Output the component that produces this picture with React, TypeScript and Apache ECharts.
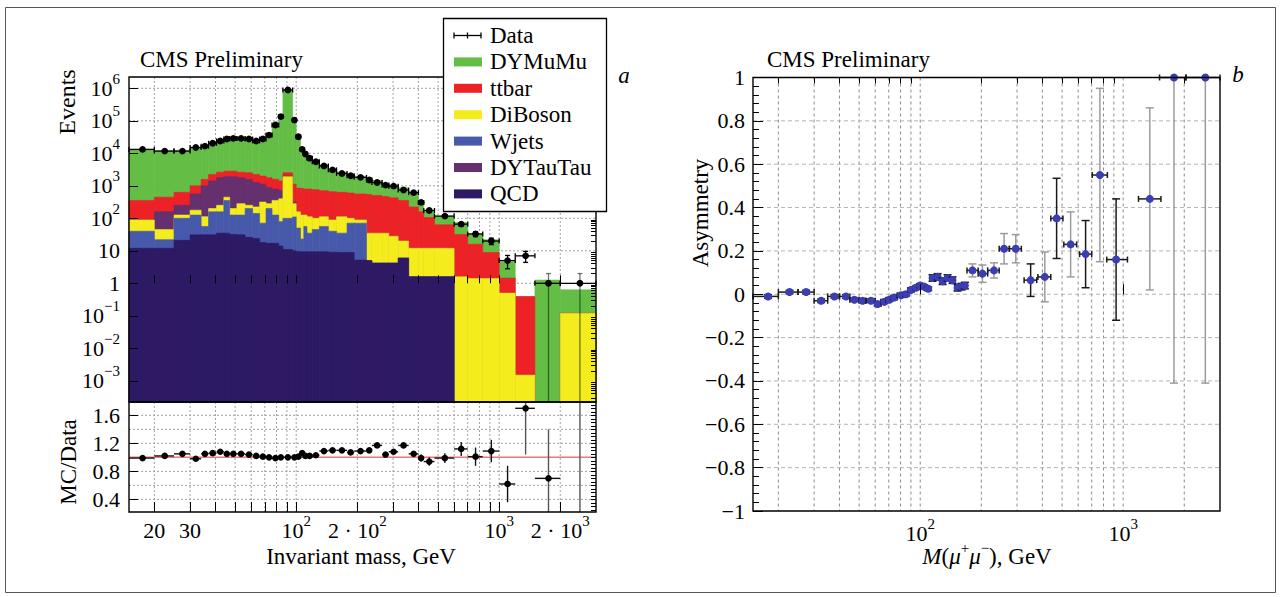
import React, { useEffect, useRef } from "react";
import * as echarts from "echarts";

const FONT = '"Liberation Serif", "Times New Roman", Times, serif';

// ---------------- panel a : invariant-mass spectrum ----------------
const binEdges = [15, 20, 25, 30, 34, 37, 40.5, 44, 47, 51, 56, 61, 66, 71, 76, 82, 86, 96, 100, 105, 109, 113, 120, 130, 144, 158, 178, 193, 222, 236, 265, 286, 318, 358, 400, 425, 480, 600, 700, 830, 1000, 1200, 1500, 2000, 3000];
const dataEvents = [13200, 11700, 11700, 15100, 16600, 20400, 24000, 27500, 28800, 28800, 27500, 24000, 27500, 36300, 74100, 135000, 891000, 105000, 32400, 13200, 9550, 7080, 5500, 4070, 3090, 2400, 2040, 1820, 1510, 1260, 1050, 977, 741, 617, 309, 174, 117, 66, 33, 20, 5, 7, 1, 1];
const dataErr = [115, 108, 108, 123, 129, 143, 155, 166, 170, 170, 166, 155, 166, 191, 272, 367, 944, 324, 180, 115, 98, 84, 74, 64, 56, 49, 45, 43, 39, 35, 32, 31, 27, 25, 18, 13, 11, 8.1, 5.7, 4.5, 2.2, 2.6, 1, 1];
// cumulative stack heights (events): top edge of every coloured band
const stackDYMuMu = [13100, 12000, 12300, 14800, 17400, 21600, 25900, 28900, 30300, 30300, 28600, 24500, 27800, 36300, 73500, 135000, 891000, 105000, 32700, 14000, 9750, 7230, 5660, 4440, 3400, 2640, 2180, 1980, 1660, 1470, 1090, 1050, 867, 647, 306, 163, 116, 74, 33, 22, 4.6, 0.39, 1.26, 0.63];
const stackTtbar = [355, 447, 631, 1000, 1585, 2240, 2630, 2820, 2820, 2630, 2510, 2240, 2000, 1780, 1585, 1410, 2510, 1120, 851, 832, 794, 794, 759, 708, 661, 631, 603, 562, 537, 501, 468, 427, 355, 224, 158, 105, 63, 32, 16, 8.9, 1.45, 0.39, 0, 0.12];
const stackDYTauTau = [89, 158, 251, 562, 1000, 1410, 1780, 1905, 1905, 1780, 1585, 1260, 1120, 891, 794, 708, 1995, 316, 158, 126, 126, 112, 100, 112, 89, 112, 100, 89, 35, 35, 35, 28, 20, 12, 12, 12, 12, 1.6, 1.4, 1.4, 0.5, 0.0015, 0, 0.12];
const stackDiBoson = [89, 45, 126, 178, 112, 200, 251, 447, 200, 282, 251, 224, 316, 282, 355, 398, 1905, 282, 158, 126, 126, 112, 100, 112, 89, 112, 100, 89, 35, 35, 35, 28, 20, 12, 12, 12, 12, 1.6, 1.4, 1.4, 0.5, 0.0015, 0, 0.12];
const stackWjets = [40, 22, 100, 126, 56, 158, 158, 355, 126, 126, 200, 141, 71, 200, 126, 79, 100, 110, 50, 23, 56, 35, 45, 56, 40, 35, 71, 71, 5.0, 4.2, 4.2, 4.2, 6.0, 1.6, 1.6, 1.6, 1.6, 0, 0, 0, 0, 0, 0, 0];
const stackQCD = [12, 12, 21, 31, 31, 31, 35, 35, 32, 31, 26, 24, 18, 17, 17, 14, 11, 10, 9.5, 9.3, 9.3, 9.3, 9.3, 9.3, 9.1, 8.9, 8.9, 5.2, 5.0, 4.2, 4.2, 4.2, 6.0, 1.6, 1.6, 1.6, 1.6, 0, 0, 0, 0, 0, 0, 0];
const mcOverData = [0.99, 1.02, 1.05, 0.98, 1.05, 1.06, 1.08, 1.05, 1.05, 1.05, 1.04, 1.02, 1.01, 1.0, 0.99, 1.0, 1.0, 1.0, 1.01, 1.06, 1.02, 1.02, 1.03, 1.09, 1.1, 1.1, 1.07, 1.09, 1.1, 1.17, 1.04, 1.08, 1.17, 1.05, 0.99, 0.94, 0.99, 1.12, 1.01, 1.09, 0.62, 1.7, 0.7, 0.1];
const mcOverDataErr = [0.01, 0.01, 0.01, 0.01, 0.01, 0.01, 0.01, 0.01, 0.01, 0.01, 0.01, 0.01, 0.01, 0.01, 0.01, 0.01, 0.01, 0.01, 0.01, 0.01, 0.01, 0.01, 0.01, 0.015, 0.015, 0.015, 0.02, 0.02, 0.02, 0.03, 0.03, 0.035, 0.04, 0.04, 0.05, 0.06, 0.07, 0.1, 0.13, 0.16, 0.26, 0.66, 0.7, 3];

// ---------------- panel b : forward-backward asymmetry ----------------
const asymMass = [17.8, 22.7, 27.4, 32.5, 37.8, 43.1, 47.4, 52, 57.2, 61.7, 66.5, 70.4, 74.5, 80.4, 85.1, 90, 95.3, 100, 104.6, 109.5, 115, 121.8, 128.9, 136.4, 144.3, 152.7, 159.8, 166, 181, 202.6, 231, 259, 295.7, 350, 411, 470, 551, 653, 768, 923, 1353, 1780, 2540];
const asymLo = [15, 20, 25, 30, 35, 40, 45, 50, 54, 60, 64, 68, 72, 77, 83, 87, 93, 97, 102, 107, 112, 118, 125, 133, 140, 148, 157, 162, 170, 193, 215, 245, 275, 325, 380, 440, 510, 610, 704, 830, 1190, 1511, 2040];
const asymHi = [20, 25, 30, 35, 40, 45, 50, 54, 60, 64, 68, 72, 77, 83, 87, 93, 97, 102, 107, 112, 118, 125, 133, 140, 148, 157, 162, 170, 193, 215, 245, 275, 315, 375, 440, 505, 590, 700, 836, 1050, 1535, 2040, 3000];
const asymValue = [-0.01, 0.01, 0.01, -0.03, -0.01, -0.01, -0.025, -0.03, -0.03, -0.045, -0.035, -0.025, -0.015, -0.005, 0.0, 0.02, 0.03, 0.04, 0.035, 0.025, 0.075, 0.08, 0.06, 0.075, 0.065, 0.03, 0.035, 0.04, 0.11, 0.095, 0.11, 0.21, 0.21, 0.065, 0.08, 0.35, 0.23, 0.185, 0.55, 0.16, 0.44, 1.0, 1.0];
const asymErr = [0.008, 0.008, 0.008, 0.008, 0.008, 0.008, 0.008, 0.008, 0.008, 0.008, 0.008, 0.008, 0.008, 0.008, 0.008, 0.008, 0.008, 0.008, 0.008, 0.008, 0.015, 0.015, 0.015, 0.015, 0.015, 0.015, 0.015, 0.015, 0.03, 0.04, 0.035, 0.07, 0.065, 0.075, 0.115, 0.185, 0.15, 0.155, 0.4, 0.28, 0.42, 1.41, 1.41];

// ---------------- ticks / labels ----------------
const massTicks = [20, 30, 40, 50, 60, 70, 80, 90, 100, 200, 300, 400, 500, 600, 700, 800, 900, 1000, 2000];
const massLabelValuesA = [20, 30, 100, 200, 1000, 2000];
const massLabelTextsA = ["20", "30", "10^2", "2 · 10^2", "10^3", "2 · 10^3"];
const massLabelValuesB = [100, 1000];
const massLabelTextsB = ["10^2", "10^3"];
const eventDecades = [-3, -2, -1, 0, 1, 2, 3, 4, 5, 6];
const eventLabelTexts = ["10^-3", "10^-2", "10^-1", "1", "10", "10^2", "10^3", "10^4", "10^5", "10^6"];
const ratioLabelValues = [0.4, 0.8, 1.2, 1.6];
const ratioGridValues = [0.4, 0.6, 0.8, 1.0, 1.2, 1.4, 1.6];
const asymGridValues = [-0.8, -0.6, -0.4, -0.2, 0, 0.2, 0.4, 0.6, 0.8];
const legendNames = ["Data", "DYMuMu", "ttbar", "DiBoson", "Wjets", "DYTauTau", "QCD"];

const C = {
  dymumu: "#64be46",
  ttbar: "#ec2227",
  diboson: "#f5ec1e",
  wjets: "#4759ab",
  dytautau: "#65306e",
  qcd: "#2e1a64",
};

const L = Math.log10;
const X_MIN = L(15);
const X_MAX = L(3000);
const Y_MIN = -3.652;
const Y_MAX = 6.348;
const R_MIN = 0.22;
const R_MAX = 1.79;

const logOr = (v: number) => (v > 0 ? L(v) : Y_MIN - 1);

const toRich = (s: string) => {
  const [base, exp] = s.split("^");
  return exp ? `{b|${base}}{s|${exp.replace("-", "\u2212")}}` : `{b|${base}}`;
};
const rich = {
  b: { fontSize: 22, fontFamily: FONT, color: "#000", lineHeight: 34 },
  s: { fontSize: 15, fontFamily: FONT, color: "#000", lineHeight: 15, verticalAlign: "top" },
};
const lookup = (vals: number[], texts: string[], isLog: boolean) => (v: number) => {
  for (let i = 0; i < vals.length; i++) {
    const t = isLog ? L(vals[i]) : vals[i];
    if (Math.abs(t - v) < 1e-6) return toRich(texts[i]);
  }
  return "";
};

const line = (p: number[], q: number[], style: any) => ({
  type: "line",
  shape: { x1: p[0], y1: p[1], x2: q[0], y2: q[1] },
  style,
});

function gridLineSeries(xi: number, yi: number, xs: number[], ys: number[], refX: number, refY: number, vStyle: any, hStyle: any) {
  return {
    type: "custom",
    xAxisIndex: xi,
    yAxisIndex: yi,
    z: 1,
    silent: true,
    data: [...xs.map((v) => [v, refY, 0]), ...ys.map((v) => [refX, v, 1])],
    renderItem: (params: any, api: any) => {
      const cs = params.coordSys;
      const p = api.coord([api.value(0), api.value(1)]);
      const vertical = api.value(2) === 0;
      const shape = vertical
        ? { x1: p[0], y1: cs.y, x2: p[0], y2: cs.y + cs.height }
        : { x1: cs.x, y1: p[1], x2: cs.x + cs.width, y2: p[1] };
      return { type: "line", shape, style: vertical ? vStyle : hStyle };
    },
  };
}

function frameSeries(xi: number, yi: number, refX: number, refY: number) {
  return {
    type: "custom",
    xAxisIndex: xi,
    yAxisIndex: yi,
    z: 10,
    silent: true,
    data: [[refX, refY]],
    renderItem: (params: any) => {
      const cs = params.coordSys;
      return {
        type: "rect",
        shape: { x: cs.x, y: cs.y, width: cs.width, height: cs.height },
        style: { fill: "none", stroke: "#000", lineWidth: 1.4 },
      };
    },
  };
}

function errRender(yLo: number, yHi: number, o: any) {
  return (params: any, api: any) => {
    const xc = api.value(0), y = api.value(1), ya = api.value(2), yb = api.value(3), x0 = api.value(4), x1 = api.value(5);
    const ch: any[] = [];
    const barColor = o.barColor ? o.barColor(params.dataIndex) : o.color;
    const ls = { stroke: barColor, lineWidth: o.lw };
    const hs = { stroke: o.color, lineWidth: o.lw };
    const ca = Math.max(ya, yLo), cb = Math.min(yb, yHi);
    if (cb > ca) {
      const pa = api.coord([xc, ca]), pb = api.coord([xc, cb]);
      ch.push(line(pa, pb, ls));
      if (ya >= yLo) ch.push(line([pa[0] - o.capV, pa[1]], [pa[0] + o.capV, pa[1]], ls));
      if (yb <= yHi) ch.push(line([pb[0] - o.capV, pb[1]], [pb[0] + o.capV, pb[1]], ls));
    }
    if (y >= yLo && y <= yHi) {
      const pl = api.coord([x0, y]), pr = api.coord([x1, y]), pc = api.coord([xc, y]);
      ch.push(line(pl, pr, hs));
      ch.push(line([pl[0], pl[1] - o.capH], [pl[0], pl[1] + o.capH], hs));
      ch.push(line([pr[0], pr[1] - o.capH], [pr[0], pr[1] + o.capH], hs));
      ch.push({ type: "circle", shape: { cx: pc[0], cy: pc[1], r: o.r }, style: { fill: o.dot } });
    }
    return { type: "group", children: ch };
  };
}

function buildOption() {
  const xTickVals = massTicks.map(L);
  const minorDecades: number[] = [];
  for (let n = -4; n <= 6; n++)
    for (let k = 2; k <= 9; k++) {
      const v = n + L(k);
      if (v > Y_MIN && v < Y_MAX) minorDecades.push(v);
    }
  const ratioMinor: number[] = [];
  for (let v = 0.25; v < R_MAX; v += 0.05) ratioMinor.push(Math.round(v * 100) / 100);

  const tick = (len: number, vals?: number[]) => ({
    show: true,
    inside: true,
    length: len,
    lineStyle: { color: "#000", width: 1 },
    ...(vals ? { customValues: vals } : {}),
  });
  const baseX = (grid: number) => ({
    type: "value",
    gridIndex: grid,
    min: X_MIN,
    max: X_MAX,
    z: 5,
    axisLine: { show: false },
    splitLine: { show: false },
    axisLabel: { show: false },
  });
  const baseY = (grid: number, min: number, max: number) => ({
    type: "value",
    gridIndex: grid,
    min,
    max,
    z: 5,
    axisLine: { show: false },
    splitLine: { show: false },
    axisLabel: { show: false },
  });

  const leftGrid = { stroke: "#a0a0a0", lineWidth: 1, lineDash: [2, 2] };
  const rightGridV = { stroke: "#8a8a8a", lineWidth: 1, lineDash: [3, 3] };
  const rightGridH = { stroke: "#b4b4b4", lineWidth: 1, lineDash: [4, 3] };

  const layers = [
    { name: "DYMuMu", values: stackDYMuMu, color: C.dymumu },
    { name: "ttbar", values: stackTtbar, color: C.ttbar },
    { name: "DYTauTau", values: stackDYTauTau, color: C.dytautau },
    { name: "DiBoson", values: stackDiBoson, color: C.diboson },
    { name: "Wjets", values: stackWjets, color: C.wjets },
    { name: "QCD", values: stackQCD, color: C.qcd },
  ];
  const layerSeries = layers.map((ly) => ({
    type: "custom",
    name: ly.name,
    xAxisIndex: 0,
    yAxisIndex: 0,
    z: 2,
    silent: true,
    encode: { x: [0, 1], y: 2 },
    data: ly.values.map((v, i) => [L(binEdges[i]), L(binEdges[i + 1]), logOr(v)]),
    renderItem: (params: any, api: any) => {
      const t = api.value(2);
      if (t <= Y_MIN) return null;
      const a = api.coord([api.value(0), Math.min(t, Y_MAX)]);
      const b = api.coord([api.value(1), Y_MIN]);
      return {
        type: "rect",
        shape: { x: a[0], y: a[1], width: b[0] - a[0], height: b[1] - a[1] },
        style: { fill: ly.color, stroke: ly.color, lineWidth: 0.6 },
      };
    },
  }));

  const centers = dataEvents.map((_, i) => (binEdges[i] + binEdges[i + 1]) / 2);
  const darkBars = new Set([33, 35, 37, 39]);

  const series: any[] = [
    gridLineSeries(0, 0, xTickVals, eventDecades, X_MIN, 0, leftGrid, leftGrid),
    ...layerSeries,
    {
      type: "custom",
      name: "Data",
      xAxisIndex: 0,
      yAxisIndex: 0,
      z: 4,
      silent: true,
      data: dataEvents.map((n, i) => [L(centers[i]), L(n), logOr(n - dataErr[i]), L(n + dataErr[i]), L(binEdges[i]), L(binEdges[i + 1])]),
      renderItem: errRender(Y_MIN, Y_MAX, {
        color: "#000",
        barColor: (i: number) => (i >= 42 ? "rgba(20,40,20,0.6)" : "#000"),
        lw: 1.3,
        capV: 2.5,
        capH: 2.5,
        r: 3.4,
        dot: "#000",
      }),
    },
    frameSeries(0, 0, X_MIN, 0),

    gridLineSeries(1, 2, xTickVals, ratioGridValues, X_MIN, 1, leftGrid, leftGrid),
    {
      type: "custom",
      xAxisIndex: 1,
      yAxisIndex: 2,
      z: 3,
      silent: true,
      data: [[X_MIN, 1.0]],
      renderItem: (params: any, api: any) => {
        const cs = params.coordSys;
        const p = api.coord([api.value(0), api.value(1)]);
        return line([cs.x, p[1]], [cs.x + cs.width, p[1]], { stroke: "#f07878", lineWidth: 1.5 });
      },
    },
    {
      type: "custom",
      name: "MC/Data",
      xAxisIndex: 1,
      yAxisIndex: 2,
      z: 4,
      silent: true,
      data: mcOverData.map((r, i) => [L(centers[i]), r, r - mcOverDataErr[i], r + mcOverDataErr[i], L(binEdges[i]), L(binEdges[i + 1])]),
      renderItem: errRender(R_MIN, R_MAX, {
        color: "#111",
        barColor: (i: number) => (i >= 41 ? "#555" : "#111"),
        lw: 1.4,
        capV: 0,
        capH: 0,
        r: 3.3,
        dot: "#000",
      }),
    },
    frameSeries(1, 2, X_MIN, 1),

    gridLineSeries(2, 4, xTickVals, asymGridValues, X_MIN, 0, rightGridV, rightGridH),
    {
      type: "custom",
      name: "Asymmetry",
      xAxisIndex: 2,
      yAxisIndex: 4,
      z: 4,
      silent: true,
      data: asymValue.map((a, i) => [L(asymMass[i]), a, a - asymErr[i], a + asymErr[i], L(asymLo[i]), L(asymHi[i])]),
      renderItem: errRender(-1, 1, {
        color: "#1a1a1a",
        barColor: (i: number) => (darkBars.has(i) || i < 28 ? "#1a1a1a" : "#9c9c9c"),
        lw: 1.5,
        capV: 4,
        capH: 3,
        r: 4,
        dot: "#3b3db3",
      }),
    },
    frameSeries(2, 4, X_MIN, 0),
  ];

  const T = (x: number, y: number, text: string, extra: any = {}, rot = 0) => ({
    type: "text",
    x,
    y,
    z: 100,
    rotation: rot,
    style: {
      text,
      fontFamily: FONT,
      fontSize: 23,
      fill: "#000",
      align: "center",
      verticalAlign: "middle",
      ...extra,
    },
  });

  const legendColors = [null, C.dymumu, C.ttbar, C.diboson, C.wjets, C.dytautau, C.qcd];
  const legendEls: any[] = [
    {
      type: "rect",
      z: 100,
      shape: { x: 443.5, y: 18.5, width: 163, height: 193 },
      style: { fill: "#fff", stroke: "#000", lineWidth: 1.3 },
    },
  ];
  legendNames.forEach((name, i) => {
    const yc = 35.5 + i * 26.4;
    if (i === 0) {
      const s = { stroke: "#000", lineWidth: 1.3 };
      legendEls.push({ type: "line", z: 101, shape: { x1: 454, y1: yc, x2: 481, y2: yc }, style: s });
      [454, 467.5, 481].forEach((x) =>
        legendEls.push({ type: "line", z: 101, shape: { x1: x, y1: yc - 3, x2: x, y2: yc + 3 }, style: s })
      );
    } else {
      legendEls.push({
        type: "rect",
        z: 101,
        shape: { x: 454, y: yc - 4.5, width: 28, height: 9 },
        style: { fill: legendColors[i] as string },
      });
    }
    legendEls.push({
      type: "text",
      z: 101,
      x: 490,
      y: yc,
      style: { text: name, fontFamily: FONT, fontSize: 23, fill: "#000", align: "left", verticalAlign: "middle" },
    });
  });

  const graphic: any[] = [
    { type: "rect", z: 100, shape: { x: 5.5, y: 7.5, width: 1270, height: 585 }, style: { fill: "none", stroke: "#555", lineWidth: 1 } },
    T(140, 59, "CMS Preliminary", { align: "left" }),
    T(767, 59, "CMS Preliminary", { align: "left" }),
    T(624, 75, "a", { fontStyle: "italic" }),
    T(1238, 74, "b", { fontStyle: "italic" }),
    T(67, 102, "Events", { fontSize: 24 }, Math.PI / 2),
    T(68, 462, "MC/Data", {}, Math.PI / 2),
    T(700, 213, "Asymmetry", {}, Math.PI / 2),
    T(361, 556, "Invariant mass, GeV"),
    T(987, 556, "{i|M}{n|(}{i|\u03bc}{s|+}{i|\u03bc}{s|\u2212}{n|), GeV}", {
      rich: {
        i: { fontFamily: FONT, fontSize: 23, fontStyle: "italic", lineHeight: 32 },
        n: { fontFamily: FONT, fontSize: 23, lineHeight: 32 },
        s: { fontFamily: FONT, fontSize: 15, lineHeight: 15, verticalAlign: "top" },
      },
    }),
    ...legendEls,
  ];

  return {
    animation: false,
    backgroundColor: "#fff",
    textStyle: { fontFamily: FONT },
    grid: [
      { left: 129, top: 77, width: 467, height: 325 },
      { left: 129, top: 402, width: 467, height: 110 },
      { left: 753, top: 77.5, width: 467, height: 433.5 },
    ],
    xAxis: [
      { ...baseX(0), axisTick: tick(8, xTickVals) },
      {
        ...baseX(1),
        axisTick: tick(10, xTickVals),
        axisLabel: {
          show: true,
          customValues: massLabelValuesA.map(L),
          formatter: lookup(massLabelValuesA, massLabelTextsA, true),
          margin: 1,
          rich,
        },
      },
      {
        ...baseX(2),
        axisTick: tick(10, massLabelValuesB.map(L)),
        axisLabel: {
          show: true,
          customValues: massLabelValuesB.map(L),
          formatter: lookup(massLabelValuesB, massLabelTextsB, true),
          margin: 5,
          rich,
        },
      },
      { ...baseX(2), axisTick: tick(6, massTicks.filter((m) => m !== 100 && m !== 1000).map(L)) },
    ],
    yAxis: [
      {
        ...baseY(0, Y_MIN, Y_MAX),
        axisTick: tick(9, eventDecades),
        axisLabel: {
          show: true,
          customValues: eventDecades,
          formatter: lookup(eventDecades, eventLabelTexts, false),
          margin: 9,
          rich,
        },
      },
      { ...baseY(0, Y_MIN, Y_MAX), axisTick: tick(5, minorDecades) },
      {
        ...baseY(1, R_MIN, R_MAX),
        axisTick: tick(9, ratioLabelValues),
        axisLabel: {
          show: true,
          customValues: ratioLabelValues,
          formatter: (v: number) => v.toFixed(1),
          margin: 9,
          fontSize: 22,
          fontFamily: FONT,
          color: "#000",
        },
      },
      { ...baseY(1, R_MIN, R_MAX), axisTick: tick(5, ratioMinor) },
      {
        ...baseY(2, -1, 1),
        interval: 0.2,
        axisTick: tick(10),
        minorTick: { show: true, splitNumber: 5, length: 6, lineStyle: { color: "#000", width: 1 } },
        minorSplitLine: { show: false },
        axisLabel: {
          show: true,
          margin: 8,
          fontSize: 22,
          fontFamily: FONT,
          color: "#000",
          formatter: (v: number) => {
            const r = Math.round(v * 10) / 10;
            if (r === 0) return "0";
            return (r < 0 ? "\u2212" : "") + String(Math.abs(r));
          },
        },
      },
    ],
    series,
    graphic,
  };
}

export default function App() {
  const ref = useRef<HTMLDivElement>(null);
  useEffect(() => {
    const chart = echarts.init(ref.current as HTMLDivElement, null, { renderer: "svg" });
    chart.setOption(buildOption() as any);
    return () => chart.dispose();
  }, []);
  return (
    <div
      ref={ref}
      style={{ position: "absolute", left: 0, top: 0, width: 1286, height: 597, background: "#fff" }}
    />
  );
}
